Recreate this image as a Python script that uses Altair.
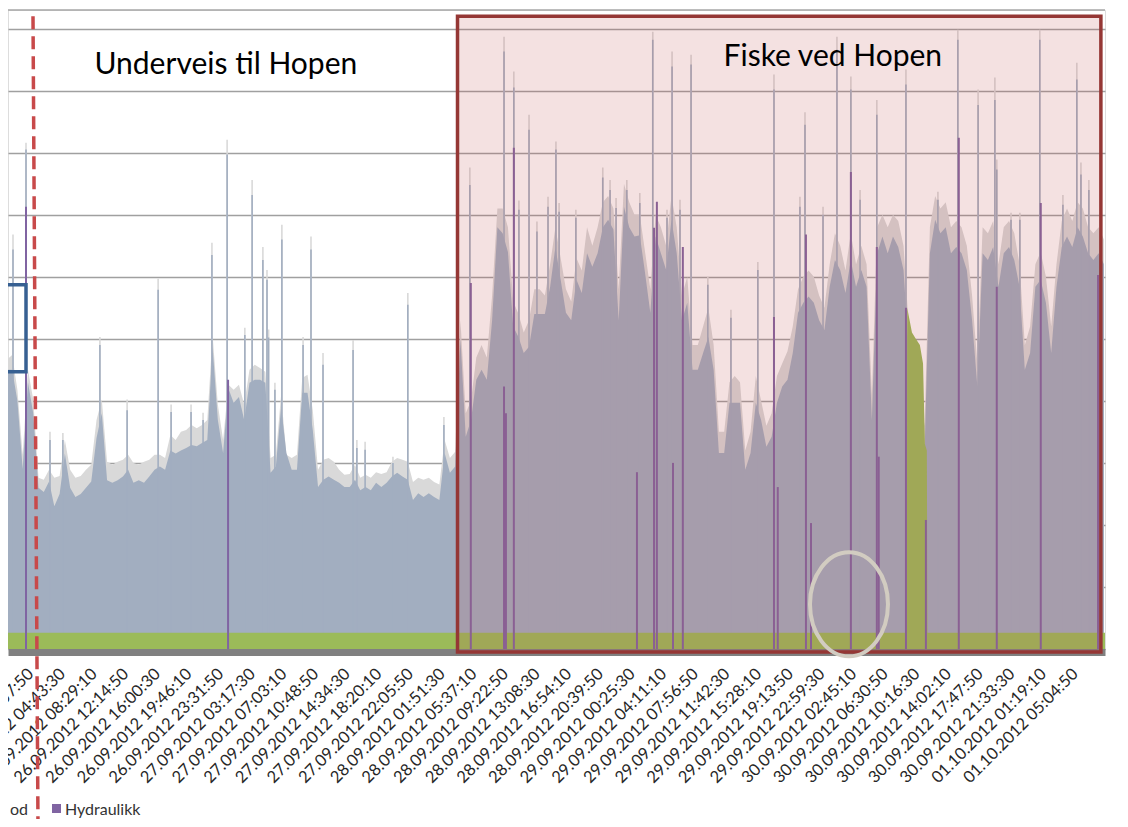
import json
import pandas as pd
import altair as alt

# ---------------- data ----------------
tick_labels = [
    "26.09.2012 00:57:50", "26.09.2012 04:43:30", "26.09.2012 08:29:10", "26.09.2012 12:14:50",
    "26.09.2012 16:00:30", "26.09.2012 19:46:10", "26.09.2012 23:31:50", "27.09.2012 03:17:30",
    "27.09.2012 07:03:10", "27.09.2012 10:48:50", "27.09.2012 14:34:30", "27.09.2012 18:20:10",
    "27.09.2012 22:05:50", "28.09.2012 01:51:30", "28.09.2012 05:37:10", "28.09.2012 09:22:50",
    "28.09.2012 13:08:30", "28.09.2012 16:54:10", "28.09.2012 20:39:50", "29.09.2012 00:25:30",
    "29.09.2012 04:11:10", "29.09.2012 07:56:50", "29.09.2012 11:42:30", "29.09.2012 15:28:10",
    "29.09.2012 19:13:50", "29.09.2012 22:59:30", "30.09.2012 02:45:10", "30.09.2012 06:30:50",
    "30.09.2012 10:16:30", "30.09.2012 14:02:10", "30.09.2012 17:47:50", "30.09.2012 21:33:30",
    "01.10.2012 01:19:10", "01.10.2012 05:04:50",
]

# sampled series (one sample every 1/6 of a label interval, starting at -0.75)
SAMPLE_START = -0.75
SAMPLE_STEP = 1.0 / 6.0

main_vals = [
    4.5, 4.5, 4.0, 2.9, 4.3, 3.8, 2.6, 2.53, 2.7, 2.3,
    2.5, 3.15, 2.6, 2.45, 2.5, 2.6, 2.7, 3.4, 3.8, 2.72,
    2.68, 2.72, 2.78, 2.89, 2.68, 2.72, 2.68, 2.78, 2.89, 2.94,
    2.89, 3.2, 3.15, 3.2, 3.24, 3.29, 3.27, 3.32, 3.37, 4.87,
    3.69, 3.16, 4.2, 3.97, 4.06, 3.69, 4.29, 4.34, 4.34, 4.29,
    2.84, 2.94, 3.9, 3.16, 2.89, 2.89, 4.13, 4.13, 3.53, 2.61,
    2.73, 2.78, 2.73, 2.68, 2.61, 2.61, 2.73, 2.56, 2.61, 2.56,
    2.68, 2.61, 2.68, 2.78, 2.84, 2.78, 2.73, 2.4, 2.51, 2.45,
    2.51, 2.45, 2.4, 3.16, 2.84, 2.94, 5.0, 3.42, 3.69, 4.34,
    4.5, 4.34, 5.3, 6.8, 6.7, 6.4, 5.2, 5.03, 4.77, 4.87,
    5.4, 5.4, 5.4, 5.84, 6.48, 5.95, 5.42, 5.3, 5.95, 5.74,
    6.38, 6.16, 6.38, 6.8, 6.92, 6.76, 5.3, 7.13, 6.8, 6.65,
    6.67, 6.06, 5.42, 6.65, 6.38, 6.11, 6.92, 6.38, 5.3, 5.58,
    4.5, 4.5, 4.77, 5.03, 4.5, 3.16, 3.16, 3.97, 3.97, 3.97,
    2.89, 3.16, 3.97, 3.69, 3.26, 3.42, 3.97, 4.23, 4.34, 4.77,
    5.42, 5.58, 5.68, 5.58, 5.3, 5.14, 5.84, 6.27, 6.11, 5.74,
    6.27, 5.84, 6.11, 5.84, 3.69, 6.38, 6.65, 6.38, 6.65, 6.48,
    6.11, 4.82, 4.0, 3.7, 3.2, 6.38, 6.92, 6.7, 6.8, 6.38,
    6.48, 6.38, 6.11, 5.3, 4.23, 6.38, 6.27, 6.48, 5.84, 6.38,
    6.48, 6.27, 5.84, 4.5, 4.77, 5.84, 5.95, 5.58, 4.77, 5.84,
    6.48, 6.65, 6.48, 6.8, 6.65, 6.38, 6.27, 6.38, 6.2,
]

total_vals = [
    4.66, 4.74, 4.18, 3.13, 4.5, 4.02, 2.76, 2.73, 2.89, 2.76,
    2.79, 3.37, 2.89, 2.76, 2.79, 2.89, 2.97, 3.69, 4.02, 3.02,
    2.97, 3.02, 3.05, 3.13, 3.0, 2.97, 3.02, 3.05, 3.13, 3.13,
    3.08, 3.45, 3.37, 3.5, 3.53, 3.61, 3.56, 3.61, 3.69, 5.06,
    3.94, 3.37, 4.26, 4.18, 4.26, 3.94, 4.5, 4.58, 4.53, 4.47,
    3.08, 3.13, 4.1, 3.13, 3.08, 3.13, 4.37, 4.42, 3.85, 2.89,
    3.05, 3.08, 3.02, 2.89, 2.81, 2.82, 2.97, 2.76, 2.81, 2.76,
    2.85, 2.82, 2.85, 3.02, 3.08, 3.05, 3.02, 2.69, 2.76, 2.73,
    2.76, 2.69, 2.65, 3.37, 3.08, 3.18,
    5.3, 3.8, 4.0, 4.7, 4.9, 4.7, 5.7, 7.1, 7.1, 6.8,
    5.6, 5.4, 5.1, 5.3, 5.8, 5.8, 5.7, 6.2, 6.8, 6.3,
    5.8, 5.6, 6.3, 6.1, 6.8, 6.5, 6.8, 7.2, 7.3, 7.1,
    5.8, 7.5, 7.2, 7.0, 7.0, 6.4, 5.8, 7.0, 6.8, 6.5,
    7.3, 6.8, 5.7, 6.0, 4.9, 4.9, 5.2, 5.5, 4.9, 3.5,
    3.5, 4.3, 4.4, 4.3, 3.2, 3.5, 4.4, 4.0, 3.6, 3.8,
    4.4, 4.6, 4.8, 5.2, 5.8, 6.0, 6.1, 6.0, 5.7, 5.5,
    6.2, 6.7, 6.5, 6.1, 6.7, 6.2, 6.5, 6.2, 4.1, 6.8,
    7.0, 6.8, 7.0, 6.9, 6.5, 5.2, 4.4, 4.1, 3.6, 6.8,
    7.3, 7.1, 7.2, 6.8, 6.9, 6.8, 6.5, 5.7, 4.6, 6.8,
    6.7, 6.9, 6.2, 6.8, 6.9, 6.7, 6.2, 4.9, 5.2, 6.2,
    6.4, 6.0, 5.2, 6.2, 6.9, 7.1, 6.9, 7.2, 7.1, 6.8,
    6.7, 6.8, 6.6,
]

# narrow spikes of the grey series: position, light tip, main top
spike_t = [
    -0.556, -0.145, 0.613, 1.02, 2.19, 3.05, 4.03, 4.44, 5.07, 5.45,
    5.73, 6.21, 6.77, 7.0, 7.34, 7.47, 7.52, 7.72, 7.94, 8.61,
    8.86, 9.24, 10.19, 10.31, 10.57, 11.45, 11.92, 13.06,
    13.88, 14.96, 15.27, 15.43, 15.75, 16.0, 16.35, 16.6, 16.7, 17.23,
    18.08, 18.31, 18.5, 18.84, 19.25, 19.66, 20.11, 20.27, 20.52, 20.87,
    21.4, 22.13, 22.98, 23.49, 24.31, 24.47, 25.04, 25.48, 25.92, 26.21,
    26.74, 27.66, 28.67, 29.3, 29.94, 30.47, 30.53, 30.98, 31.26, 31.89,
    32.62, 33.06, 33.19, 33.44,
]
spike_light = [
    6.68, 8.16, 3.5, 3.48, 5.03, 4.02, 5.97, 3.94, 3.94, 3.81,
    6.55, 8.21, 5.18, 7.56, 6.48, 6.11, 5.15, 4.29, 6.84, 5.03,
    6.65, 4.77, 4.98, 3.37, 3.34, 3.1, 5.74, 3.74,
    7.76, 9.87, 9.31, 7.23, 8.61, 6.89, 7.29, 8.18, 7.19, 7.08,
    7.76, 7.56, 7.27, 7.56, 7.35, 9.95, 7.08, 9.63, 7.24, 9.58,
    6.0, 5.47, 6.24, 9.26, 7.29, 8.65, 7.13, 9.87, 9.23, 7.4,
    8.85, 9.34, 7.37, 9.98, 9.02, 9.21, 7.89, 7.03, 7.03, 9.98,
    7.32, 9.45, 7.84, 7.56,
]
spike_main = [
    6.44, 8.05, 3.37, 3.37, 4.9, 3.85, 5.79, 3.82, 3.82, 3.69,
    6.35, 7.97, 5.06, 7.32, 6.27, 5.95, 5.02, 4.18, 6.6, 4.9,
    6.44, 4.58, 4.82, 3.24, 3.21, 3.0, 5.55, 3.61,
    7.48, 9.63, 9.05, 7.08, 8.37, 6.73, 7.13, 8.05, 7.05, 6.95,
    7.6, 7.4, 7.11, 7.4, 7.19, 9.82, 6.95, 9.39, 7.08, 9.42,
    5.87, 5.34, 6.11, 9.02, 7.13, 8.45, 7.0, 9.66, 9.02, 7.24,
    8.61, 9.1, 7.24, 9.82, 8.77, 8.85, 7.73, 6.92, 6.92, 9.82,
    7.16, 9.18, 7.65, 7.4,
]

# Hydraulikk (purple) spikes
hyd_t = [-0.145, 6.24, 13.91, 14.96, 15.02, 15.27, 19.16, 19.7, 19.79, 20.3,
         20.61, 23.49, 23.61, 24.5, 24.66, 25.92, 26.74, 26.8, 27.66, 28.29,
         29.33, 30.53, 31.92, 33.73]
hyd_v = [7.13, 4.34, 5.9, 4.23, 3.8, 8.08, 2.85, 6.79, 7.21, 3.0,
         6.48, 5.35, 2.61, 6.68, 2.03, 7.69, 6.48, 3.1, 5.5, 2.08,
         8.24, 5.84, 7.19, 6.03]

# green series (constant base load with one bump)
green_t = [-0.75, 27.69, 27.70, 27.85, 27.97, 28.10, 28.20, 28.26, 28.32, 28.34, 33.95]
green_v = [0.26, 0.26, 5.5, 5.1, 5.0, 4.9, 4.6, 3.3, 3.2, 0.26, 0.26]

# annotation anchors (data units)
fiske_box = {"t1": 13.49, "t2": 33.82, "v1": -0.05, "v2": 10.2}
ellipse_center = {"t": 25.86, "v": 0.72}
label_under = {"t": 6.17, "v": 9.42, "txt": "Underveis til Hopen"}
label_fiske = {"t": 25.35, "v": 9.55, "txt": "Fiske ved Hopen"}
dash_line = {"t1": 0.076, "t2": 0.234, "v1": 10.2}
bracket_t = [-0.75, -0.145, -0.145, -0.75]
bracket_v = [5.87, 5.87, 4.47, 4.47]

# ---------------- chart ----------------
X_MIN, X_MAX = -0.714, 33.95
Y_MAX = 10.3
W, H = 1097, 639

FONT = "Lato"
C_MAIN = "#A2AEC0"
C_LIGHT = "#D9D9D9"
C_GREEN = "#9BBB59"
C_PURPLE = "#8064A2"

xscale = alt.Scale(domain=[X_MIN, X_MAX], nice=False, zero=False)
yscale = alt.Scale(domain=[0, Y_MAX], nice=False, zero=False)

label_expr = json.dumps(tick_labels) + "[round(datum.value)]"
xaxis = alt.Axis(
    values=list(range(len(tick_labels))), labelExpr=label_expr,
    labelAngle=-45, labelAlign="right", labelBaseline="middle",
    labelFontSize=16.5, labelFont=FONT, labelColor="#262626",
    labelOverlap=False, labelFlush=False, ticks=False, tickSize=0,
    labelPadding=19, domain=True, domainColor="#808080", domainWidth=7,
    offset=3, grid=False, title=None,
)
yaxis = alt.Axis(values=list(range(11)), grid=True, gridColor="#A0A0A0", gridWidth=1.3,
                 labels=False, ticks=False, domain=False, title=None)


def X(field="t"):
    return alt.X(f"{field}:Q", scale=xscale, axis=xaxis)


def Y(field):
    return alt.Y(f"{field}:Q", scale=yscale, axis=yaxis)


positions = [SAMPLE_START + k * SAMPLE_STEP for k in range(len(main_vals))]
df_s = pd.DataFrame({"t": positions, "main": main_vals, "total": total_vals})
df_spk = pd.DataFrame({"t": spike_t, "light": spike_light, "main": spike_main})
df_hyd = pd.DataFrame({"t": hyd_t, "v": hyd_v})
df_grn = pd.DataFrame({"t": green_t, "v": green_v})
df_box = pd.DataFrame([fiske_box])
df_ell = pd.DataFrame([ellipse_center])
df_txt = pd.DataFrame([label_under, label_fiske])
df_dash = pd.DataFrame([dash_line])
df_br = pd.DataFrame({"t": bracket_t, "v": bracket_v, "o": list(range(len(bracket_t)))})
df_one = pd.DataFrame({"a": [0]})

light_area = alt.Chart(df_s).mark_area(color=C_LIGHT, interpolate="linear").encode(
    x=X(), y=Y("total"), y2=alt.datum(0))
light_spikes = alt.Chart(df_spk).mark_rule(color=C_LIGHT, strokeWidth=1.6).encode(
    x=X(), y=Y("light"), y2=alt.datum(0))
main_area = alt.Chart(df_s).mark_area(color=C_MAIN, interpolate="linear").encode(
    x=X(), y=Y("main"), y2=alt.datum(0))
main_spikes = alt.Chart(df_spk).mark_rule(color=C_MAIN, strokeWidth=1.6).encode(
    x=X(), y=Y("main"), y2=alt.datum(0))
green_area = alt.Chart(df_grn).mark_area(color=C_GREEN, interpolate="linear").encode(
    x=X(), y=Y("v"), y2=alt.datum(0))
hyd_rules = alt.Chart(df_hyd).mark_rule(color=C_PURPLE, strokeWidth=2).encode(
    x=X(), y=Y("v"), y2=alt.datum(0))

box = alt.Chart(df_box).mark_rect(
    fill="#C0504D", fillOpacity=0.17, stroke="#953735", strokeWidth=3.5
).encode(x=X("t1"), x2=alt.X2("t2"), y=Y("v1"), y2=alt.Y2("v2"))

ELLIPSE = "M0,-1 A0.75,1 0 1,1 0,1 A0.75,1 0 1,1 0,-1 Z"
ell = alt.Chart(df_ell).mark_point(
    shape=ELLIPSE, size=10816, filled=False, stroke="#D2CCC1", strokeWidth=4, opacity=1
).encode(x=X("t"), y=Y("v"))

texts = alt.Chart(df_txt).mark_text(
    font=FONT, fontSize=30, color="black", align="center", baseline="middle"
).encode(x=X("t"), y=Y("v"), text="txt:N")

dash = alt.Chart(df_dash).mark_rule(
    color="#C8494A", strokeWidth=3.5, strokeDash=[13, 7]
).encode(x=X("t1"), x2=alt.X2("t2"), y=Y("v1"), y2=alt.value(817))

bracket = alt.Chart(df_br).mark_line(color="#376092", strokeWidth=3.5).encode(
    x=X("t"), y=Y("v"), order="o:Q")

top_rule = alt.Chart(df_one).mark_rule(color="#A6A6A6", strokeWidth=1.5).encode(
    x=alt.value(0), x2=alt.value(W), y=alt.value(0))

leg_od = alt.Chart(df_one).mark_text(
    text="od", font=FONT, fontSize=16, color="#333333", align="left", baseline="middle"
).encode(x=alt.value(2), y=alt.value(800))
leg_sq = alt.Chart(df_one).mark_square(color=C_PURPLE, size=81, opacity=1).encode(
    x=alt.value(48.5), y=alt.value(798.5))
leg_h = alt.Chart(df_one).mark_text(
    text="Hydraulikk", font=FONT, fontSize=16, color="#333333", align="left", baseline="middle"
).encode(x=alt.value(57), y=alt.value(800))

chart = alt.layer(
    light_area, light_spikes, main_area, main_spikes, green_area, hyd_rules,
    box, ell, texts, dash, bracket, top_rule, leg_od, leg_sq, leg_h,
).properties(
    width=W, height=H,
    autosize=alt.AutoSizeParams(type="none"),
    padding={"left": 0, "top": 2, "right": 15, "bottom": 170},
).configure_view(stroke=None).configure(background="white")

chart.save("out.html", embed_options={"renderer": "svg", "actions": False})
